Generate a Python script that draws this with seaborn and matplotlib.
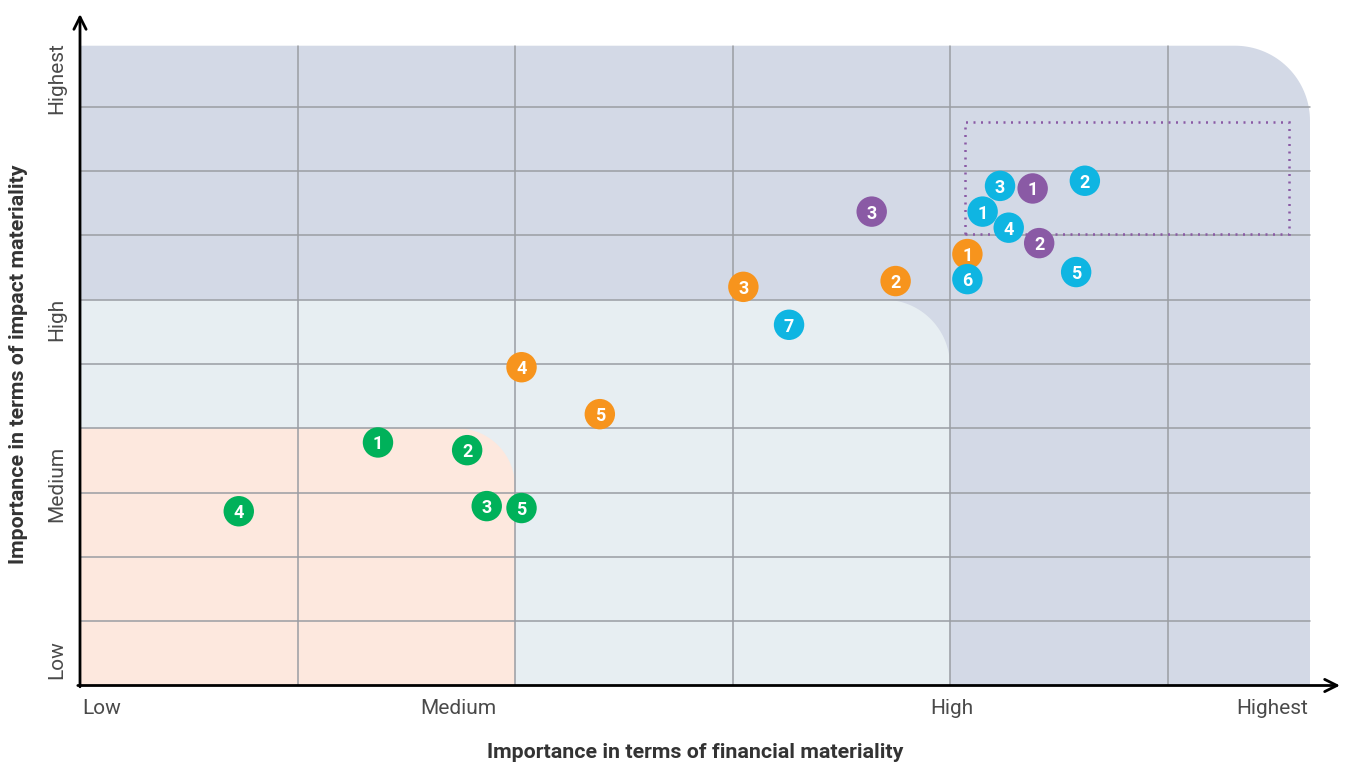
import numpy as np
import pandas as pd
import matplotlib
matplotlib.use("Agg")
import matplotlib.pyplot as plt
from matplotlib.patches import Polygon, Rectangle
import seaborn as sns

# ---- data -------------------------------------------------------------
# x: financial materiality, y: impact materiality (one grid cell = 1 unit)
green_x = [1.37, 1.78, 1.87, 0.73, 2.03]
green_y = [3.78, 3.66, 2.79, 2.71, 2.76]
green_n = ["1", "2", "3", "4", "5"]

orange_x = [4.08, 3.75, 3.05, 2.03, 2.39]
orange_y = [6.71, 6.29, 6.20, 4.95, 4.22]
orange_n = ["1", "2", "3", "4", "5"]

blue_x = [4.15, 4.62, 4.23, 4.27, 4.58, 4.08, 3.26]
blue_y = [7.37, 7.85, 7.77, 7.12, 6.43, 6.32, 5.61]
blue_n = ["1", "2", "3", "4", "5", "6", "7"]

purple_x = [4.38, 4.41, 3.64]
purple_y = [7.73, 6.88, 7.37]
purple_n = ["1", "2", "3"]

x_tick_pos = [0.10, 1.74, 4.01, 5.48]
x_tick_labels = ["Low", "Medium", "High", "Highest"]
y_tick_pos = [0.40, 3.13, 5.69, 9.44]
y_tick_labels = ["Low", "Medium", "High", "Highest"]

group_colors = {"green": "#00b15a", "orange": "#f7941d",
                "blue": "#0fb5e2", "purple": "#8a5aa5"}

frames = []
for name, xs, ys, ns in [("green", green_x, green_y, green_n),
                         ("orange", orange_x, orange_y, orange_n),
                         ("blue", blue_x, blue_y, blue_n),
                         ("purple", purple_x, purple_y, purple_n)]:
    frames.append(pd.DataFrame({"x": xs, "y": ys, "n": ns, "group": name}))
df = pd.concat(frames, ignore_index=True)

# ---- layout -----------------------------------------------------------
sns.set_theme(style="white")
plt.rcParams["font.family"] = ["Roboto", "DejaVu Sans"]

W, H = 1348, 762
fig = plt.figure(figsize=(W / 100, H / 100), dpi=100)

PX_X = 217.5          # pixels per x unit
PX_Y = 64.3           # pixels per y unit
x0_px, y0_px = 80, 685.5
xmax = (1345 - x0_px) / PX_X
ymax = (y0_px - 10) / PX_Y
ax = fig.add_axes([x0_px / W, (H - y0_px) / H,
                   (1345 - x0_px) / W, (y0_px - 10) / H])
ax.set_xlim(0, xmax)
ax.set_ylim(0, ymax)
for s in ax.spines.values():
    s.set_visible(False)

X_END = (1310 - x0_px) / PX_X
Y_END = 9.95


def rounded_region(w, h, r_px):
    """Rectangle from the origin with a rounded top-right corner."""
    rx, ry = r_px / PX_X, r_px / PX_Y
    t = np.linspace(0, np.pi / 2, 40)
    arc = np.column_stack([w - rx + rx * np.sin(t), h - ry + ry * np.cos(t)])
    return np.vstack([[0, 0], [0, h], arc, [w, 0]])


ax.add_patch(Polygon(rounded_region(X_END, Y_END, 75), closed=True,
                     facecolor="#d3d9e6", edgecolor="none", zorder=0))
ax.add_patch(Polygon(rounded_region(4.0, 6.0, 66), closed=True,
                     facecolor="#e7eef2", edgecolor="none", zorder=0.1))
ax.add_patch(Polygon(rounded_region(2.0, 4.0, 58), closed=True,
                     facecolor="#fde8de", edgecolor="none", zorder=0.2))

# grid
for gx in range(1, 6):
    ax.plot([gx, gx], [0, Y_END], color="#9a9da3", lw=1.1, zorder=1)
for gy in range(1, 10):
    ax.plot([0, X_END], [gy, gy], color="#9a9da3", lw=1.1, zorder=1)

# dotted focus box
ax.add_patch(Rectangle((4.07, 7.02), 5.56 - 4.07, 8.76 - 7.02,
                       facecolor="none", edgecolor="#8a5aa5", lw=1.8,
                       linestyle=(0, (0.8, 2.2)), zorder=2))

# axes with arrows
ax.annotate("", xy=(0, (y0_px - 14) / PX_Y), xytext=(0, -0.02),
            arrowprops=dict(arrowstyle="->", lw=2, color="black",
                            mutation_scale=22, shrinkA=0, shrinkB=0),
            zorder=5, annotation_clip=False)
ax.annotate("", xy=((1340 - x0_px) / PX_X, 0), xytext=(-0.01, 0),
            arrowprops=dict(arrowstyle="->", lw=2, color="black",
                            mutation_scale=22, shrinkA=0, shrinkB=0),
            zorder=5, annotation_clip=False)

# numbered markers
sns.scatterplot(data=df, x="x", y="y", hue="group", palette=group_colors,
                s=480, edgecolor="none", linewidth=0, legend=False,
                ax=ax, zorder=3)
for _, row in df.iterrows():
    ax.text(row["x"], row["y"], row["n"], color="white", fontsize=13,
            fontweight="bold", ha="center", va="center_baseline", zorder=4)

# ticks and titles
ax.set_xticks(x_tick_pos, x_tick_labels)
ax.set_yticks(y_tick_pos, y_tick_labels, rotation=90, va="center")
ax.tick_params(axis="both", length=0, labelsize=15, labelcolor="#4a4a4a")
ax.tick_params(axis="x", pad=10)
ax.tick_params(axis="y", pad=10)
ax.set_xlabel("Importance in terms of financial materiality", fontsize=15.4,
              fontweight="bold", color="#333333", labelpad=14)
ax.set_ylabel("Importance in terms of impact materiality", fontsize=15.4,
              fontweight="bold", color="#333333", labelpad=10)
ax.xaxis.set_label_coords((695 - x0_px) / (1345 - x0_px), -0.085)
ax.yaxis.set_label_coords((28 - x0_px) / (1345 - x0_px),
                          (y0_px - 364) / (y0_px - 10))

fig.savefig("out.png", dpi=100, facecolor="white")
